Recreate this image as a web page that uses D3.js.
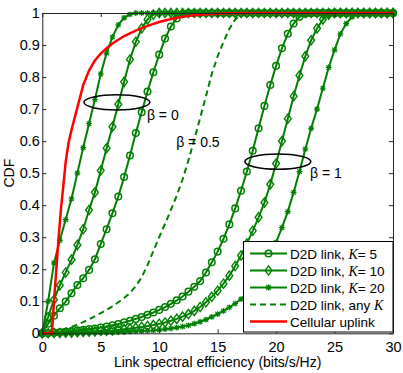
<!DOCTYPE html>
<html><head><meta charset="utf-8">
<script src="https://cdn.jsdelivr.net/npm/d3@7"></script>
<style>
body{margin:0;background:#fff}
text{font-family:"Liberation Sans",Arial,Helvetica,sans-serif}
</style></head>
<body>
<svg id="chart" width="403" height="373"></svg>
<script>
// ---------- DATA ----------
const xGrid = [0,0.5,1,1.5,2,2.5,3,3.5,4,4.5,5,5.5,6,6.5,7,7.5,8,8.5,9,9.5,10,10.5,11,11.5,12,12.5,13,13.5,14,14.5,15,15.5,16,16.5,17,17.5,18,18.5,19,19.5,20,20.5,21,21.5,22,22.5,23,23.5,24,24.5,25,25.5,26,26.5,27,27.5,28,28.5,29,29.5,30];

// beta = 0
const k5Beta0  = [0,0.03,0.055,0.078,0.099,0.125,0.151,0.172,0.198,0.231,0.279,0.325,0.375,0.427,0.488,0.555,0.625,0.69,0.755,0.815,0.87,0.92,0.958,0.983,0.996,1,1,1,1,1,1,1,1,1,1,1,1,1,1,1,1,1,1,1,1,1,1,1,1,1,1,1,1,1,1,1,1,1,1,1,1];
const k10Beta0 = [0,0.05,0.105,0.15,0.19,0.23,0.276,0.325,0.385,0.44,0.508,0.578,0.645,0.715,0.785,0.855,0.91,0.952,0.98,0.995,1,1,1,1,1,1,1,1,1,1,1,1,1,1,1,1,1,1,1,1,1,1,1,1,1,1,1,1,1,1,1,1,1,1,1,1,1,1,1,1,1];
const k20Beta0 = [0,0.1,0.22,0.29,0.355,0.42,0.5,0.58,0.655,0.73,0.81,0.875,0.925,0.963,0.985,0.996,1,1,1,1,1,1,1,1,1,1,1,1,1,1,1,1,1,1,1,1,1,1,1,1,1,1,1,1,1,1,1,1,1,1,1,1,1,1,1,1,1,1,1,1,1];
// beta = 0.5, any K
const anyKBeta05 = [0,0.002,0.005,0.009,0.014,0.02,0.027,0.035,0.044,0.053,0.063,0.073,0.084,0.097,0.11,0.126,0.147,0.175,0.213,0.257,0.3,0.342,0.385,0.43,0.48,0.54,0.605,0.672,0.74,0.81,0.865,0.91,0.95,0.98,0.995,1,1,1,1,1,1,1,1,1,1,1,1,1,1,1,1,1,1,1,1,1,1,1,1,1,1];
// beta = 1
const k5Beta1  = [0,0.001,0.002,0.003,0.005,0.007,0.009,0.011,0.013,0.015,0.018,0.021,0.025,0.029,0.034,0.039,0.045,0.051,0.058,0.065,0.073,0.082,0.092,0.103,0.115,0.13,0.145,0.163,0.19,0.222,0.255,0.295,0.34,0.39,0.445,0.505,0.57,0.64,0.71,0.775,0.835,0.89,0.935,0.967,0.988,0.998,1,1,1,1,1,1,1,1,1,1,1,1,1,1,1];
const k10Beta1 = [0,0,0.001,0.001,0.002,0.002,0.003,0.004,0.005,0.006,0.007,0.008,0.009,0.011,0.013,0.015,0.017,0.02,0.023,0.026,0.03,0.034,0.039,0.045,0.052,0.06,0.07,0.082,0.097,0.114,0.133,0.155,0.18,0.21,0.243,0.28,0.32,0.362,0.408,0.465,0.53,0.6,0.67,0.74,0.805,0.865,0.915,0.952,0.98,0.995,1,1,1,1,1,1,1,1,1,1,1];
const k20Beta1 = [0,0,0,0,0.001,0.001,0.001,0.001,0.002,0.002,0.002,0.003,0.003,0.004,0.004,0.005,0.006,0.007,0.008,0.009,0.011,0.013,0.015,0.018,0.021,0.025,0.03,0.036,0.043,0.051,0.06,0.07,0.081,0.093,0.107,0.123,0.142,0.165,0.195,0.235,0.284,0.33,0.38,0.44,0.505,0.575,0.64,0.7,0.765,0.83,0.885,0.935,0.967,0.988,0.998,1,1,1,1,1,1];
// cellular uplink
const cellX = [0,0.8,0.9,1.0,1.1,1.2,1.4,1.6,1.8,2.0,2.25,2.5,2.75,3.0,3.5,4.0,4.5,5.0,5.5,6.0,7.0,8.0,9.0,10.0,11.0,12.0,13.0,14.0,15.0,16.0,18.0,20.0,25.0,30.0];
const cellY = [0,0,0.04,0.1,0.15,0.2,0.3,0.39,0.46,0.535,0.595,0.635,0.67,0.705,0.775,0.82,0.852,0.873,0.89,0.905,0.928,0.945,0.96,0.972,0.981,0.988,0.993,0.996,0.998,0.999,1,1,1,1];

const xTicks = [0,5,10,15,20,25,30];
const yTicks = [0,0.1,0.2,0.3,0.4,0.5,0.6,0.7,0.8,0.9,1];
const yTickLabels = ["0","0.1","0.2","0.3","0.4","0.5","0.6","0.7","0.8","0.9","1"];
const legendLabels = [
  {pre:"D2D link, ", it:"K", post:"= 5"},
  {pre:"D2D link, ", it:"K", post:"= 10"},
  {pre:"D2D link, ", it:"K", post:"= 20"},
  {pre:"D2D link, any ", it:"K", post:""},
  {pre:"Cellular uplink", it:"", post:""}
];
// annotations (data coordinates)
const ellipses = [{cx:6.38, cy:0.721, rx:2.82, ry:0.0235},{cx:20.15, cy:0.536, rx:2.82, ry:0.024}];
const betaLabels = [{x:8.95, y:0.667, t:"0"},{x:11.45, y:0.582, t:"0.5"},{x:22.9, y:0.485, t:"1"}];

// ---------- CHART ----------
const GREEN = "#008000", RED = "#ff0000";
const FS = "14.5px";
const svg = d3.select("#chart");
const xS = d3.scaleLinear().domain([0,30]).range([42.3,393]);
const yS = d3.scaleLinear().domain([0,1]).range([333.3,13]);

const line = d3.line().x(d=>xS(d[0])).y(d=>yS(d[1]));
const zipG = ys => xGrid.map((x,i)=>[x,ys[i]]);

const plot = svg.append("g");

function markerPath(type){
  if(type==="diamond") return "M0,-4.6L3.4,0L0,4.6L-3.4,0Z";
  if(type==="star") return "M-2.2,-2.2L2.2,2.2M-2.2,2.2L2.2,-2.2M-2.9,0L2.9,0M0,-2.9L0,2.9";
  return null;
}
function drawMarkers(g, pts, type){
  pts.forEach(p=>{
    const cx = xS(p[0]), cy = yS(p[1]);
    if(type==="circle"){
      g.append("circle").attr("cx",cx).attr("cy",cy).attr("r",3.3)
        .attr("fill","none").attr("stroke",GREEN).attr("stroke-width",1.5);
    } else {
      g.append("path").attr("d",markerPath(type)).attr("transform",`translate(${cx},${cy})`)
        .attr("fill","none").attr("stroke",GREEN).attr("stroke-width",type==="star"?1.2:1.4);
    }
  });
}
const series = [
  {ys:k5Beta0, m:"circle"},{ys:k10Beta0, m:"diamond"},{ys:k20Beta0, m:"star"},
  {ys:k5Beta1, m:"circle"},{ys:k10Beta1, m:"diamond"},{ys:k20Beta1, m:"star"}
];
series.forEach(s=>{
  const pts = zipG(s.ys);
  plot.append("path").attr("d",line(pts)).attr("fill","none").attr("stroke",GREEN).attr("stroke-width",2);
  drawMarkers(plot.append("g"), pts, s.m);
});
plot.append("path").attr("d",line(zipG(anyKBeta05))).attr("fill","none").attr("stroke",GREEN)
  .attr("stroke-width",2).attr("stroke-dasharray","6,4");
plot.append("path").attr("d",line(cellX.map((x,i)=>[x,cellY[i]]))).attr("fill","none").attr("stroke",RED)
  .attr("stroke-width",2.5);

// axes
const AX = "#262626";
const gB = svg.append("g").attr("transform",`translate(0,${yS(0)})`)
  .call(d3.axisBottom(xS).tickValues(xTicks).tickSizeInner(-4).tickSizeOuter(0).tickPadding(8).tickFormat(d3.format("d")));
const gT = svg.append("g").attr("transform",`translate(0,${yS(1)})`)
  .call(d3.axisTop(xS).tickValues(xTicks).tickSizeInner(-4).tickSizeOuter(0).tickFormat(""));
const gL = svg.append("g").attr("transform",`translate(${xS(0)},0)`)
  .call(d3.axisLeft(yS).tickValues(yTicks).tickSizeInner(-4).tickSizeOuter(0).tickPadding(2.5).tickFormat((d,i)=>yTickLabels[i]));
const gR = svg.append("g").attr("transform",`translate(${xS(30)},0)`)
  .call(d3.axisRight(yS).tickValues(yTicks).tickSizeInner(-4).tickSizeOuter(0).tickFormat(""));
[gB,gT,gL,gR].forEach(g=>{
  g.selectAll("path,line").attr("stroke",AX).attr("stroke-width",1);
  g.selectAll("text").attr("fill","#000").style("font-size",FS).style("font-family",'"Liberation Sans",Arial,sans-serif');
});

// ellipses & labels
ellipses.forEach(e=>{
  svg.append("ellipse").attr("cx",xS(e.cx)).attr("cy",yS(e.cy))
    .attr("rx",xS(e.cx+e.rx)-xS(e.cx)).attr("ry",yS(e.cy)-yS(e.cy+e.ry))
    .attr("fill","none").attr("stroke","#000").attr("stroke-width",1.5);
});
betaLabels.forEach(b=>{
  svg.append("text").attr("x",xS(b.x)).attr("y",yS(b.y)).style("font-size","14px").attr("fill","#000")
    .text("\u03B2 = "+b.t);
});

// axis titles
svg.append("text").attr("x",(xS(0)+xS(30))/2).attr("y",367).attr("text-anchor","middle")
  .style("font-size","14px").text("Link spectral efficiency (bits/s/Hz)");
svg.append("text").attr("transform",`translate(14,${(yS(0)+yS(1))/2}) rotate(-90)`).attr("text-anchor","middle")
  .style("font-size","14px").text("CDF");

// legend
const lg = svg.append("g");
lg.append("rect").attr("x",243.5).attr("y",241.5).attr("width",149.5).attr("height",90.5)
  .attr("fill","#fff").attr("stroke","#000").attr("stroke-width",1);
const rowY = [253.5,270.5,287.5,304.5,321.5];
const legendStyles = [
  {c:GREEN,m:"circle",dash:null},{c:GREEN,m:"diamond",dash:null},{c:GREEN,m:"star",dash:null},
  {c:GREEN,m:null,dash:"6,4"},{c:RED,m:null,dash:null}
];
legendLabels.forEach((lab,i)=>{
  const st = legendStyles[i], yy=rowY[i];
  const l = lg.append("line").attr("x1",250).attr("x2",287).attr("y1",yy).attr("y2",yy)
    .attr("stroke",st.c).attr("stroke-width",st.c===RED?2.5:2);
  if(st.dash) l.attr("stroke-dasharray",st.dash);
  if(st.m==="circle") lg.append("circle").attr("cx",268.5).attr("cy",yy).attr("r",3.3).attr("fill","none").attr("stroke",GREEN).attr("stroke-width",1.5);
  else if(st.m) lg.append("path").attr("d",markerPath(st.m)).attr("transform",`translate(268.5,${yy})`).attr("fill","none").attr("stroke",GREEN).attr("stroke-width",1.4);
  const t = lg.append("text").attr("x",290).attr("y",yy+5).style("font-size","13.5px").attr("fill","#000");
  t.append("tspan").text(lab.pre);
  if(lab.it) t.append("tspan").style("font-family",'"Liberation Serif","Times New Roman",serif').style("font-style","italic").style("font-size","14px").text(lab.it);
  if(lab.post) t.append("tspan").text(lab.post);
});
</script>
</body></html>
